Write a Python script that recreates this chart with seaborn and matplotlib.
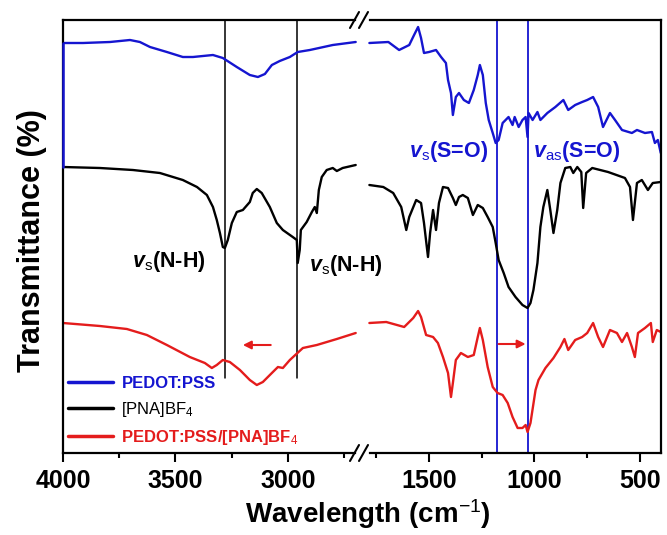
import matplotlib
matplotlib.use("Agg")
import matplotlib.pyplot as plt
import numpy as np
import pandas as pd
import seaborn as sns
from matplotlib.lines import Line2D
from matplotlib.ticker import FixedLocator

sns.set_theme(style="ticks")
plt.rcParams["font.family"] = ["Liberation Sans", "DejaVu Sans"]
plt.rcParams.update({
    "mathtext.fontset": "custom",
    "mathtext.rm": "Liberation Sans",
    "mathtext.it": "Liberation Sans:italic",
    "mathtext.bf": "Liberation Sans:bold",
    "mathtext.bfit": "Liberation Sans:italic:bold",
    "mathtext.sf": "Liberation Sans",
})

# ---------------- data (offset transmittance, arbitrary units) ----------------
samples = ["PEDOT:PSS", "[PNA]BF$_4$", "PEDOT:PSS/[PNA]BF$_4$"]

# high-wavenumber segment (4000 - 2700 cm-1)
pedot_hi_wn = [4000, 3911, 3791, 3702, 3658, 3613, 3538, 3467, 3422, 3333, 3289, 3227,
               3169, 3133, 3102, 3071, 3036, 2991, 2956, 2902, 2800, 2698]
pedot_hi_t = [410, 410, 411, 413, 411, 406, 401, 396, 396, 398, 395, 386,
              378, 376, 379, 388, 392, 396, 401, 403, 408, 411]

pna_hi_wn = [4000, 3836, 3689, 3569, 3467, 3404, 3360, 3333, 3316, 3302, 3289, 3280,
             3267, 3249, 3227, 3200, 3169, 3156, 3138, 3116, 3080, 3049, 3022, 2978,
             2960, 2956, 2947, 2942, 2916, 2893, 2880, 2871, 2862, 2849, 2827, 2800,
             2782, 2756, 2698]
pna_hi_t = [286, 285, 283, 280, 273, 266, 258, 246, 233, 220, 206, 205,
            213, 230, 241, 243, 251, 260, 264, 260, 246, 230, 223, 216,
            213, 190, 203, 223, 231, 241, 246, 240, 263, 276, 283, 285,
            282, 285, 288]

mix_hi_wn = [4000, 3836, 3716, 3627, 3538, 3436, 3369, 3338, 3316, 3289, 3258, 3213,
             3169, 3138, 3111, 3071, 3044, 3022, 2991, 2933, 2871, 2782, 2698]
mix_hi_t = [130, 127, 124, 118, 108, 96, 90, 85, 88, 93, 91, 83,
            73, 68, 71, 80, 86, 85, 93, 105, 108, 114, 120]

# low-wavenumber segment (1800 - 400 cm-1)
pedot_lo_wn = [1783, 1693, 1642, 1594, 1571, 1552, 1538, 1524, 1500, 1467, 1443, 1420,
               1410, 1396, 1387, 1373, 1358, 1335, 1311, 1288, 1269, 1259, 1245, 1231,
               1217, 1198, 1184, 1170, 1151, 1137, 1123, 1104, 1094, 1075, 1057, 1042,
               1033, 1028, 1009, 986, 972, 939, 901, 863, 840, 807, 774, 750, 722, 698,
               675, 642, 618, 585, 538, 514, 476, 443, 429, 415, 401]
pedot_lo_t = [410, 411, 403, 408, 418, 426, 415, 400, 401, 403, 396, 390,
              373, 360, 338, 356, 360, 353, 350, 363, 378, 388, 378, 350,
              333, 320, 310, 313, 330, 333, 336, 328, 336, 326, 333, 336,
              316, 340, 333, 341, 333, 340, 346, 353, 343, 348, 351, 353, 356, 346,
              326, 340, 333, 323, 320, 323, 320, 321, 310, 313, 300]

pna_lo_wn = [1783, 1717, 1670, 1632, 1608, 1594, 1561, 1538, 1524, 1505, 1495, 1481,
             1467, 1453, 1434, 1410, 1387, 1373, 1358, 1340, 1316, 1292, 1269, 1245,
             1222, 1198, 1184, 1170, 1146, 1123, 1090, 1057, 1033, 1019, 1005, 986,
             972, 958, 939, 925, 910, 892, 877, 854, 830, 816, 797, 778, 769, 755,
             726, 651, 571, 547, 533, 514, 491, 462, 439, 401]
pna_lo_t = [268, 266, 260, 246, 223, 236, 253, 250, 230, 196, 220, 243,
            223, 250, 266, 265, 255, 248, 256, 258, 255, 238, 248, 245,
            236, 226, 210, 193, 180, 166, 156, 148, 145, 150, 163, 190,
            226, 246, 263, 243, 220, 243, 270, 285, 286, 280, 286, 281, 245, 280,
            285, 281, 275, 266, 233, 270, 273, 263, 270, 271]

mix_lo_wn = [1783, 1703, 1618, 1575, 1552, 1538, 1514, 1481, 1458, 1434, 1410, 1396,
             1387, 1373, 1349, 1316, 1288, 1269, 1259, 1245, 1222, 1198, 1175, 1151,
             1127, 1104, 1080, 1057, 1042, 1033, 1019, 995, 981, 948, 910, 877, 858,
             840, 807, 774, 750, 722, 698, 675, 642, 609, 585, 561, 538, 524, 509,
             476, 448, 439, 420, 401]
mix_lo_t = [130, 131, 126, 135, 142, 136, 118, 116, 110, 96, 80, 56,
            70, 93, 100, 96, 98, 116, 125, 113, 86, 66, 60, 58,
            50, 36, 25, 25, 28, 21, 30, 63, 73, 85, 95, 106, 114,
            103, 113, 116, 120, 130, 116, 106, 123, 120, 111, 120, 106, 96, 120,
            125, 130, 111, 123, 121]

nh_lines = [3280, 2960]
so_lines = [1179, 1033]
hi_ticks = [4000, 3500, 3000]
hi_minor = [3750, 3250, 2750]
lo_ticks = [1500, 1000, 500]
lo_minor = [1750, 1250, 750]

BLUE = "#1515d0"
BLACK = "#000000"
RED = "#e41c1c"
palette = {samples[0]: BLUE, samples[1]: BLACK, samples[2]: RED}

def seg(wn, t, name):
    return pd.DataFrame({"wn": wn, "T": t, "sample": name})

df_hi = pd.concat([seg(pedot_hi_wn, pedot_hi_t, samples[0]),
                   seg(pna_hi_wn, pna_hi_t, samples[1]),
                   seg(mix_hi_wn, mix_hi_t, samples[2])], ignore_index=True)
df_lo = pd.concat([seg(pedot_lo_wn, pedot_lo_t, samples[0]),
                   seg(pna_lo_wn, pna_lo_t, samples[1]),
                   seg(mix_lo_wn, mix_lo_t, samples[2])], ignore_index=True)

W, H = 667, 535
fig = plt.figure(figsize=(W / 100, H / 100), dpi=100)
x0, xb, x1 = 63, 362, 661
y_top, y_bot = 20, 453
ax1 = fig.add_axes([x0 / W, 1 - y_bot / H, (xb - x0) / W, (y_bot - y_top) / H])
ax2 = fig.add_axes([xb / W, 1 - y_bot / H, (x1 - xb) / W, (y_bot - y_top) / H])
ax2.patch.set_visible(False)

for ax, df in ((ax1, df_hi), (ax2, df_lo)):
    sns.lineplot(data=df, x="wn", y="T", hue="sample", palette=palette,
                 estimator=None, sort=False, lw=1.7, legend=False, ax=ax)
    ax.set_ylim(0, 433)
    ax.set_yticks([])
    ax.set_xlabel("")
    ax.set_ylabel("")
    ax.tick_params(axis="y", left=False, right=False, labelleft=False)
    ax.tick_params(axis="x", which="major", direction="out", length=6.5, width=1.5,
                   pad=5, colors=BLACK, labelsize=18)
    ax.tick_params(axis="x", which="minor", direction="out", length=3.5, width=1.5,
                   colors=BLACK)
    for s in ax.spines.values():
        s.set_color(BLACK)
        s.set_linewidth(1.6)

ax1.set_xlim(4000, 2670)
ax2.set_xlim(1818, 400)
ax1.set_xticks(hi_ticks, labels=[str(v) for v in hi_ticks], fontweight="bold", fontsize=18)
ax2.set_xticks(lo_ticks, labels=[str(v) for v in lo_ticks], fontweight="bold", fontsize=18)
ax1.xaxis.set_minor_locator(FixedLocator(hi_minor))
ax2.xaxis.set_minor_locator(FixedLocator(lo_minor))

ax1.spines["right"].set_visible(False)
ax2.spines["left"].set_visible(False)
ax1.spines["top"].set_bounds(2702, 4000)
ax1.spines["bottom"].set_bounds(2702, 4000)
ax2.spines["top"].set_bounds(400, 1778)
ax2.spines["bottom"].set_bounds(400, 1778)

# blue segment drawn on the left axis line
ax1.plot([4000, 4000], [pedot_hi_t[0], pna_hi_t[0]], color=BLUE, lw=1.8,
         clip_on=False, zorder=5)

# reference lines
for v in nh_lines:
    ax1.axvline(v, ymin=(453 - 378) / 433, ymax=1, color=BLACK, lw=1.1, zorder=1)
for v in so_lines:
    ax2.axvline(v, color=BLUE, lw=1.3, zorder=1)

# arrows
ax1.annotate("", xy=(3200, 108), xytext=(3076, 108),
             arrowprops=dict(arrowstyle="-|>", color=RED, lw=1.5, mutation_scale=12,
                             shrinkA=0, shrinkB=0))
ax2.annotate("", xy=(1042, 109), xytext=(1170, 109),
             arrowprops=dict(arrowstyle="-|>", color=RED, lw=1.5, mutation_scale=12,
                             shrinkA=0, shrinkB=0))

# band labels
ax1.text(3693, 186, r"$\mathbfit{v}_{\mathrm{s}}$(N-H)", fontsize=15.5,
         fontweight="bold", ha="left", va="baseline", color=BLACK)
ax1.text(2907, 182, r"$\mathbfit{v}_{\mathrm{s}}$(N-H)", fontsize=15.5,
         fontweight="bold", ha="left", va="baseline", color=BLACK, clip_on=False,
         zorder=10)
ax2.text(1594, 296, r"$\mathbfit{v}_{\mathrm{s}}$(S=O)", fontsize=15.5,
         fontweight="bold", ha="left", va="baseline", color=BLUE)
ax2.text(1009, 296, r"$\mathbfit{v}_{\mathrm{as}}$(S=O)", fontsize=15.5,
         fontweight="bold", ha="left", va="baseline", color=BLUE)

# legend
handles = [Line2D([], [], color=palette[s], lw=2.5) for s in samples]
leg = ax1.legend(handles, samples, loc="upper left", bbox_to_anchor=(0.017, 0.178),
                 frameon=False, handlelength=2.7, handletextpad=0.5,
                 labelspacing=0.55, borderaxespad=0, borderpad=0,
                 prop={"size": 12, "weight": "bold"})
for txt, s in zip(leg.get_texts(), samples):
    txt.set_color(palette[s])
leg.get_texts()[1].set_fontweight("normal")

# axis titles
ax1.set_ylabel("Transmittance (%)", fontsize=22, fontweight="bold", color=BLACK)
ax1.yaxis.set_label_coords(-0.055, 0.49)
fig.text(368 / W, 1 - 514 / H, r"Wavelength (cm$^{-1}$)", fontsize=20,
         fontweight="bold", ha="center", va="center", color=BLACK)

# axis break marks
def px(x, y):
    return x / W, 1 - y / H

for yb in (y_top, y_bot):
    for xs in (350, 359):
        (a, b), (c, d) = px(xs, yb + 8), px(xs + 9, yb - 8)
        fig.add_artist(Line2D([a, c], [b, d], color=BLACK, lw=1.5,
                              transform=fig.transFigure))

fig.savefig("out.png", dpi=100)
